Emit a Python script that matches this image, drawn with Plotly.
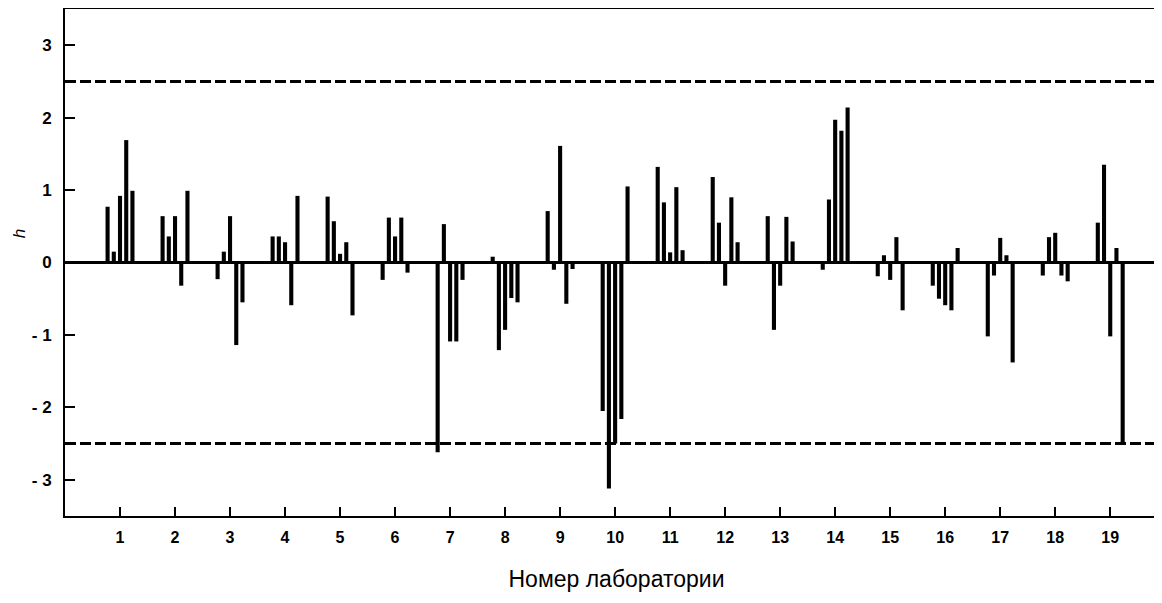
import plotly.graph_objects as go

labs = list(range(1, 20))
level1 = [0.77, 0.64, -0.23, 0.36, 0.91, -0.24, -2.62, 0.08, 0.71, -2.05, 1.32, 1.18, 0.64, -0.10, -0.19, -0.32, -1.02, -0.18, 0.55]
level2 = [0.15, 0.36, 0.15, 0.36, 0.57, 0.62, 0.53, -1.21, -0.10, -3.12, 0.83, 0.55, -0.93, 0.87, 0.10, -0.50, -0.18, 0.35, 1.35]
level3 = [0.92, 0.64, 0.64, 0.28, 0.12, 0.36, -1.09, -0.93, 1.61, -2.50, 0.14, -0.32, -0.32, 1.97, -0.24, -0.59, 0.34, 0.41, -1.02]
level4 = [1.69, -0.32, -1.14, -0.59, 0.28, 0.62, -1.09, -0.49, -0.57, -2.16, 1.04, 0.90, 0.63, 1.82, 0.35, -0.66, 0.10, -0.18, 0.20]
level5 = [0.99, 0.99, -0.55, 0.92, -0.73, -0.14, -0.24, -0.55, -0.09, 1.05, 0.17, 0.28, 0.29, 2.14, -0.66, 0.20, -1.38, -0.26, -2.48]
critical = 2.5
y_tickvals = [-3, -2, -1, 0, 1, 2, 3]
y_ticktext = ["- 3", "- 2", "- 1", "0", "1", "2", "3"]

fig = go.Figure()
for lv in [level1, level2, level3, level4, level5]:
    fig.add_trace(go.Bar(x=labs, y=lv, marker=dict(color="black", line=dict(width=0)), showlegend=False))

for c in (critical, -critical):
    fig.add_shape(type="line", xref="paper", x0=0, x1=1, yref="y", y0=c, y1=c,
                  line=dict(color="black", width=3, dash="11px,4px"))

fig.add_annotation(text="<i>h</i>", xref="paper", yref="y", x=-0.041, y=0.4,
                   xanchor="center", yanchor="middle", textangle=-90, showarrow=False,
                   font=dict(size=17, family="Liberation Sans", color="black"))

fig.update_layout(
    width=1162, height=603,
    margin=dict(l=57, r=2, t=1, b=95),
    plot_bgcolor="white", paper_bgcolor="white",
    barmode="group", bargap=0.435, bargroupgap=0.34,
    font=dict(family="Liberation Sans", color="black"),
)
fig.update_xaxes(
    range=[0, 20.05], tickvals=labs, ticktext=[str(v) for v in labs],
    ticks="inside", ticklen=9, tickwidth=2, tickcolor="black",
    showline=True, linecolor="black", linewidth=2, mirror=True,
    showgrid=False, zeroline=False, automargin=False,
    tickfont=dict(size=16, weight="bold", family="Liberation Sans Narrow, Liberation Sans"),
    ticklabelstandoff=6,
    title=dict(text="Номер лаборатории", font=dict(size=23, family="Liberation Sans"), standoff=26),
)
fig.update_yaxes(
    range=[-3.5, 3.5], tickvals=y_tickvals, ticktext=y_ticktext,
    ticks="inside", ticklen=10, tickwidth=2, tickcolor="black",
    showline=True, linecolor="black", linewidth=2, mirror=True,
    showgrid=False, zeroline=True, zerolinecolor="black", zerolinewidth=3,
    automargin=False,
    tickfont=dict(size=17, weight="bold", family="Liberation Sans Narrow, Liberation Sans"),
    ticklabelstandoff=8,
)

fig.write_html("out.html")
